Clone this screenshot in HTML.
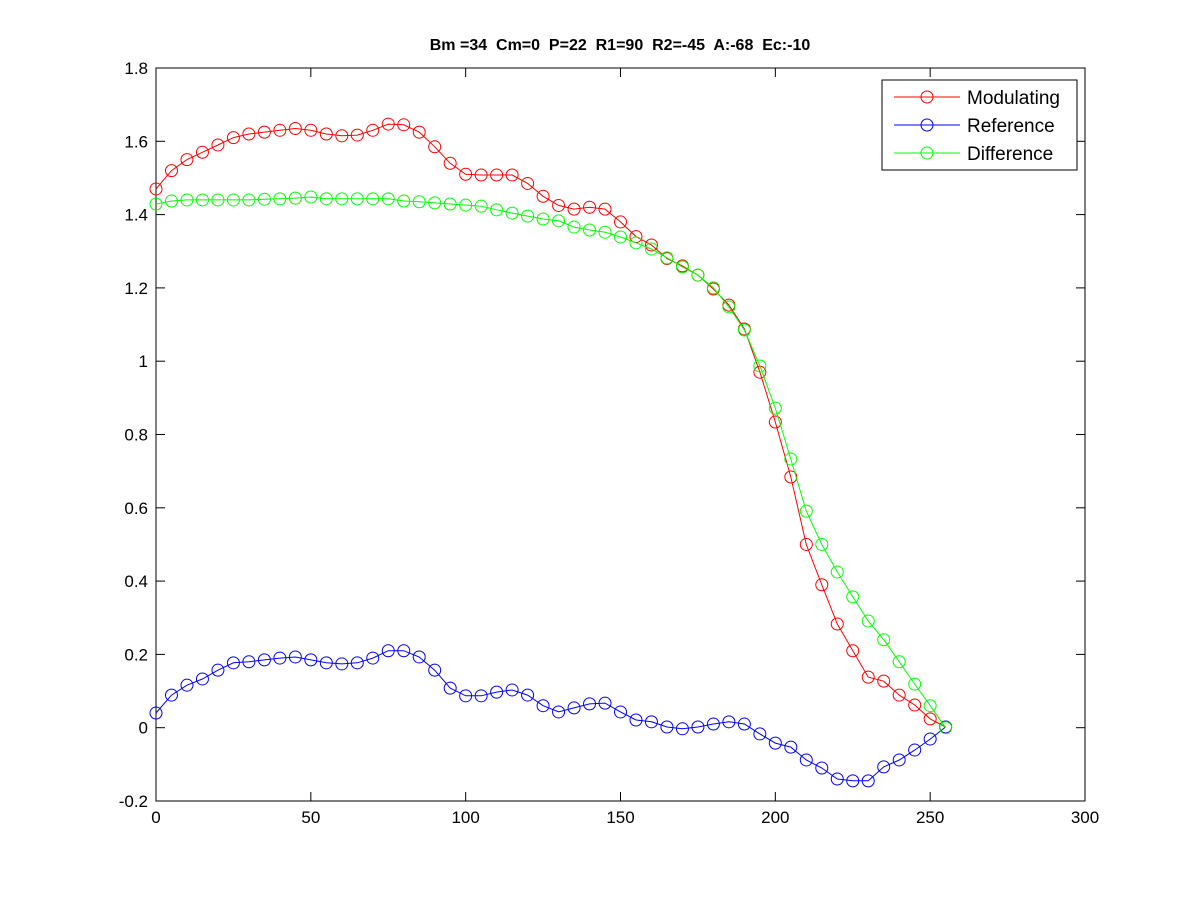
<!DOCTYPE html>
<html><head><meta charset="utf-8"><style>
html,body{margin:0;padding:0;background:#fff;}
svg{display:block;font-family:"Liberation Sans",Arial,sans-serif;}
</style></head><body>
<svg id="chart" width="1200" height="900">
<rect x="0" y="0" width="1200" height="900" fill="#fff"/>
<text x="620" y="50" text-anchor="middle" font-size="16" font-weight="bold" style="white-space:pre" xml:space="preserve">Bm =34  Cm=0  P=22  R1=90  R2=-45  A:-68  Ec:-10</text>
<g id="axes"></g>
<g id="series"></g>
<g id="legend"></g>
</svg>
<script>
const xTicks=[0,50,100,150,200,250,300];
const yTicks=[-0.2,0,0.2,0.4,0.6,0.8,1,1.2,1.4,1.6,1.8];
const yTickLabels=["-0.2","0","0.2","0.4","0.6","0.8","1","1.2","1.4","1.6","1.8"];
const xValues=[0,5,10,15,20,25,30,35,40,45,50,55,60,65,70,75,80,85,90,95,100,105,110,115,120,125,130,135,140,145,150,155,160,165,170,175,180,185,190,195,200,205,210,215,220,225,230,235,240,245,250,255];
const modulating=[1.47,1.52,1.55,1.57,1.59,1.61,1.62,1.625,1.63,1.635,1.63,1.62,1.615,1.617,1.63,1.647,1.645,1.625,1.585,1.54,1.51,1.508,1.508,1.508,1.485,1.45,1.425,1.415,1.42,1.415,1.38,1.34,1.317,1.28,1.26,1.235,1.197,1.153,1.088,0.97,0.834,0.684,0.50,0.39,0.283,0.21,0.138,0.127,0.089,0.062,0.024,0.002];
const reference=[0.04,0.089,0.116,0.133,0.157,0.177,0.18,0.185,0.19,0.193,0.185,0.177,0.174,0.177,0.19,0.21,0.21,0.193,0.157,0.108,0.087,0.087,0.097,0.103,0.089,0.06,0.043,0.054,0.065,0.067,0.043,0.021,0.016,0.002,-0.003,0.002,0.01,0.016,0.01,-0.017,-0.042,-0.053,-0.088,-0.11,-0.14,-0.145,-0.145,-0.107,-0.088,-0.061,-0.031,0.002];
const difference=[1.429,1.437,1.44,1.44,1.44,1.44,1.44,1.442,1.443,1.445,1.448,1.443,1.443,1.443,1.443,1.443,1.437,1.435,1.432,1.429,1.426,1.423,1.413,1.404,1.396,1.388,1.383,1.366,1.358,1.352,1.339,1.323,1.306,1.282,1.257,1.235,1.2,1.148,1.085,0.987,0.872,0.733,0.591,0.50,0.425,0.357,0.291,0.24,0.18,0.119,0.06,0.0];
const seriesNames=["Modulating","Reference","Difference"];
const seriesColors=["#ff0000","#0000ff","#00ff00"];

const NS="http://www.w3.org/2000/svg";
const L=156,R=1085,T=68,B=801;
const xs=v=>L+(v-0)/(300-0)*(R-L);
const ys=v=>B-(v-(-0.2))/(1.8-(-0.2))*(B-T);
function mk(tag,attrs,parent){const e=document.createElementNS(NS,tag);for(const k in attrs)e.setAttribute(k,attrs[k]);parent.appendChild(e);return e;}
const axes=document.getElementById('axes');
const frame=mk('rect',{x:L,y:T,width:R-L,height:B-T,fill:'none',stroke:'#000','stroke-width':1},axes);


xTicks.forEach(v=>{
  const x=xs(v);
  mk('line',{x1:x,x2:x,y1:B,y2:B-9,stroke:'#000'},axes);
  mk('line',{x1:x,x2:x,y1:T,y2:T+9,stroke:'#000'},axes);
  const t=mk('text',{x:x,y:B+22,'text-anchor':'middle','font-size':17},axes);
  t.textContent=v;
  
  
});
yTicks.forEach((v,i)=>{
  const y=ys(v);
  mk('line',{x1:L,x2:L+9,y1:y,y2:y,stroke:'#000'},axes);
  mk('line',{x1:R,x2:R-9,y1:y,y2:y,stroke:'#000'},axes);
  const t=mk('text',{x:L-8,y:y+6,'text-anchor':'end','font-size':17},axes);
  t.textContent=yTickLabels[i];
  
  
});
const sg=document.getElementById('series');
[modulating,reference,difference].forEach((data,si)=>{
  const g=mk('g',{},sg);
  
  
  const pts=data.map((v,i)=>xs(xValues[i]).toFixed(1)+','+ys(v).toFixed(1)).join(' ');
  const pl=mk('polyline',{points:pts,fill:'none',stroke:seriesColors[si],'stroke-width':1},g);
  
  
  data.forEach((v,i)=>{
    const c=mk('circle',{cx:xs(xValues[i]),cy:ys(v),r:6,fill:'none',stroke:seriesColors[si],'stroke-width':1},g);
    
    
  });
});
const lg=document.getElementById('legend');
mk('rect',{x:882,y:80,width:195,height:90,fill:'#fff',stroke:'#000'},lg);
seriesNames.forEach((n,i)=>{
  const y=97+i*28;
  const e=mk('g',{},lg);
  
  
  mk('line',{x1:894,x2:960,y1:y,y2:y,stroke:seriesColors[i]},e);
  mk('circle',{cx:927,cy:y,r:6,fill:'none',stroke:seriesColors[i]},e);
  const t=mk('text',{x:967,y:y+7,'font-size':19},e);
  t.textContent=n;
});
</script>
</body></html>
